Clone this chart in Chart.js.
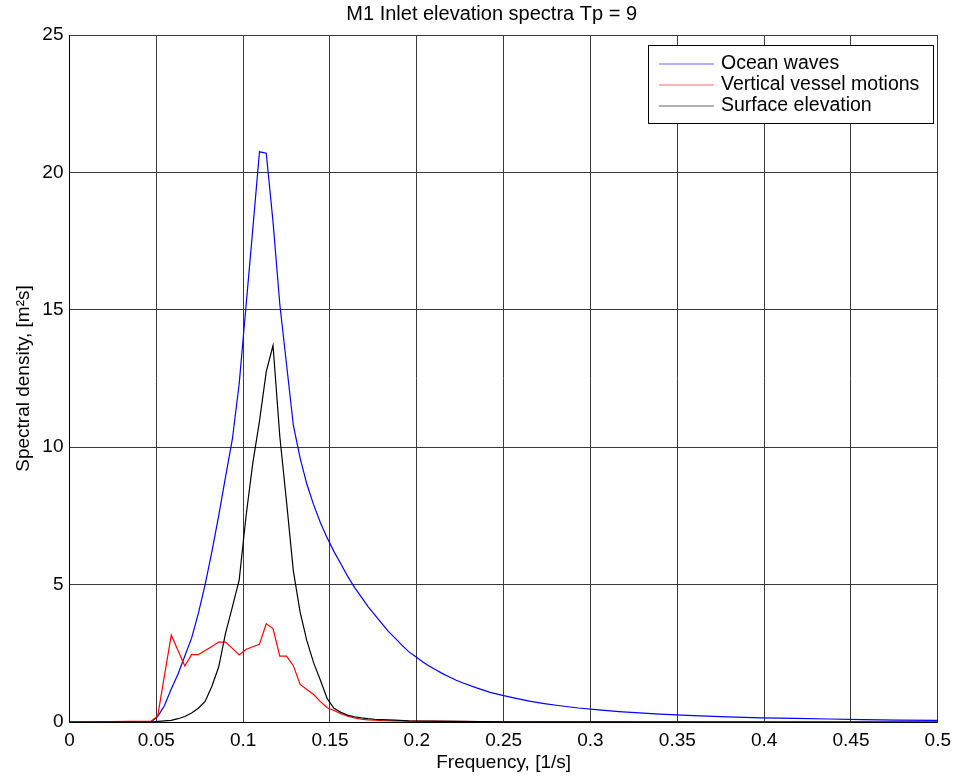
<!DOCTYPE html>
<html>
<head>
<meta charset="utf-8">
<title>M1 Inlet elevation spectra</title>
<script src="https://cdn.jsdelivr.net/npm/chart.js@4.4.1/dist/chart.umd.min.js"></script>
<style>
  body { margin: 0; background: #fff; }
  canvas { display: block; }
</style>
</head>
<body>
<canvas id="grafico" width="958" height="778"></canvas>
<script>
// frecuencias [1/s] y densidad espectral [m^2 s]
const freqOcean = [0, 0.0469, 0.0508, 0.0547, 0.0586, 0.0625, 0.0664, 0.0703, 0.0742, 0.0781,
    0.0820, 0.0859, 0.0898, 0.0938, 0.0977, 0.1016, 0.1055, 0.1094, 0.1133, 0.1172,
    0.1211, 0.1250, 0.1289, 0.1328, 0.1367, 0.1406, 0.1445, 0.1484, 0.1523, 0.1563,
    0.1602, 0.1641, 0.1680, 0.1719, 0.1758, 0.1797, 0.1836, 0.1875, 0.1914, 0.1953,
    0.1992, 0.2031, 0.2070, 0.2109, 0.2148, 0.2188, 0.2227, 0.2266, 0.2344, 0.2422,
    0.2500, 0.2578, 0.2656, 0.2734, 0.2813, 0.2930, 0.3047, 0.3164, 0.3281, 0.3398,
    0.3594, 0.3789, 0.3984, 0.4180, 0.4375, 0.4570, 0.4766, 0.5];
const oceanWaves = [0, 0.0, 0.2, 0.6, 1.2, 1.75, 2.4, 3.05, 3.95, 5.0,
    6.2, 7.5, 8.9, 10.3, 12.3, 15.1, 17.9, 20.75, 20.7, 18.2,
    15.2, 13.0, 10.8, 9.6, 8.65, 7.9, 7.25, 6.7, 6.2, 5.75,
    5.3, 4.9, 4.55, 4.2, 3.9, 3.6, 3.3, 3.05, 2.8, 2.56,
    2.38, 2.2, 2.04, 1.9, 1.76, 1.64, 1.52, 1.42, 1.24, 1.08,
    0.96, 0.85, 0.75, 0.67, 0.6, 0.51, 0.44, 0.38, 0.33, 0.29,
    0.23, 0.19, 0.15, 0.13, 0.11, 0.09, 0.07, 0.06];

const freqVessel = [0, 0.0469, 0.0508, 0.0547, 0.0586, 0.0625, 0.0664, 0.0703, 0.0742, 0.0781,
    0.0820, 0.0859, 0.0898, 0.0938, 0.0977, 0.1016, 0.1055, 0.1094, 0.1133, 0.1172,
    0.1211, 0.1250, 0.1289, 0.1328, 0.1367, 0.1406, 0.1445, 0.1484, 0.1523, 0.1563,
    0.1602, 0.1641, 0.1680, 0.1719, 0.1758, 0.1797, 0.1875, 0.1953, 0.2227, 0.2500, 0.5];
const vesselMotions = [0, 0.03, 0.22, 1.7, 3.16, 2.6, 2.04, 2.45, 2.45, 2.6,
    2.75, 2.91, 2.91, 2.68, 2.44, 2.64, 2.74, 2.83, 3.58, 3.40,
    2.40, 2.40, 2.05, 1.37, 1.18, 1.0, 0.74, 0.52, 0.42, 0.3,
    0.21, 0.15, 0.1, 0.08, 0.07, 0.05, 0.04, 0.03, 0.02, 0.01, 0];

const freqSurface = [0, 0.0469, 0.0508, 0.0547, 0.0586, 0.0625, 0.0664, 0.0703, 0.0742, 0.0781,
    0.0820, 0.0859, 0.0898, 0.0938, 0.0977, 0.1016, 0.1055, 0.1094, 0.1133, 0.1172,
    0.1211, 0.1250, 0.1289, 0.1328, 0.1367, 0.1406, 0.1445, 0.1484, 0.1523, 0.1563,
    0.1602, 0.1641, 0.1680, 0.1719, 0.1758, 0.1797, 0.1875, 0.1953, 0.2227, 0.2500, 0.5];
const surfaceElevation = [0, 0.0, 0.02, 0.04, 0.06, 0.12, 0.2, 0.33, 0.5, 0.75,
    1.3, 2.0, 3.22, 4.19, 5.16, 7.46, 9.4, 10.95, 12.75, 13.7,
    10.4, 8.0, 5.5, 4.0, 2.95, 2.15, 1.52, 0.85, 0.5, 0.35,
    0.25, 0.19, 0.15, 0.12, 0.1, 0.09, 0.07, 0.04, 0.02, 0.01, 0];

const etiquetas = ['Ocean waves', 'Vertical vessel motions', 'Surface elevation'];
const colores = ['#0000ff', '#ff0000', '#000000'];
const titulo = 'M1 Inlet elevation spectra Tp = 9';

const fuente = 'Liberation Sans, Arial, Helvetica, sans-serif';
Chart.defaults.font.family = fuente;
Chart.defaults.font.size = 19;
Chart.defaults.color = '#000';

function puntos(xs, ys) {
    return xs.map((x, i) => ({ x: x, y: ys[i] }));
}

// titulo centrado sobre el area de datos (como en matlab)
const tituloArriba = {
    id: 'tituloArriba',
    afterDraw(chart) {
        const ctx = chart.ctx;
        const area = chart.chartArea;
        ctx.save();
        ctx.font = '20px ' + fuente;
        ctx.fillStyle = '#000';
        ctx.textAlign = 'center';
        ctx.textBaseline = 'middle';
        ctx.fillText(titulo, (area.left + area.right) / 2 - 12, 14);
        ctx.restore();
    }
};

// leyenda dibujada a mano dentro del area del grafico, con caja
const leyendaCaja = {
    id: 'leyendaCaja',
    afterDatasetsDraw(chart) {
        const ctx = chart.ctx;
        const area = chart.chartArea;
        const x0 = Math.round(area.right - 290), y0 = Math.round(area.top + 10), w = 285, h = 78;
        ctx.save();
        ctx.fillStyle = '#fff';
        ctx.fillRect(x0, y0, w, h);
        ctx.strokeStyle = '#000';
        ctx.lineWidth = 1;
        ctx.strokeRect(x0 + 0.5, y0 + 0.5, w, h);
        ctx.font = '19.5px ' + fuente;
        ctx.textBaseline = 'middle';
        ctx.fillStyle = '#000';
        chart.data.datasets.forEach((ds, i) => {
            const y = y0 + 19 + i * 21;
            ctx.strokeStyle = colores[i];
            ctx.globalAlpha = 0.6;
            ctx.lineWidth = 1.2;
            ctx.beginPath();
            ctx.moveTo(x0 + 11, y);
            ctx.lineTo(x0 + 66, y);
            ctx.stroke();
            ctx.globalAlpha = 1;
            ctx.fillText(ds.label, x0 + 73, y - 0.5);
        });
        ctx.restore();
    }
};

const datasets = [
    { label: etiquetas[0], data: puntos(freqOcean, oceanWaves), borderColor: colores[0], order: 3 },
    { label: etiquetas[1], data: puntos(freqVessel, vesselMotions), borderColor: colores[1], order: 2 },
    { label: etiquetas[2], data: puntos(freqSurface, surfaceElevation), borderColor: colores[2], order: 1 }
].map(ds => Object.assign(ds, { borderWidth: 1.2, pointRadius: 0, fill: false, tension: 0 }));

new Chart(document.getElementById('grafico').getContext('2d'), {
    type: 'line',
    data: { datasets: datasets },
    options: {
        responsive: false,
        animation: false,
        layout: { padding: { left: 0, right: 19, top: 35, bottom: 0 } },
        plugins: {
            legend: { display: false },
            tooltip: { enabled: false },
            title: { display: false }
        },
        scales: {
            x: {
                type: 'linear',
                min: 0,
                max: 0.5,
                afterFit: s => { s.height = 56; },
                ticks: {
                    stepSize: 0.05,
                    padding: 7,
                    maxRotation: 0,
                    callback: v => String(Number(v.toFixed(2)))
                },
                grid: { color: '#3a3a3a', lineWidth: 1, drawTicks: false },
                border: { color: '#000', width: 1 },
                title: { display: true, text: 'Frequency, [1/s]', padding: { top: 0, bottom: 4 } }
            },
            y: {
                min: 0,
                max: 25,
                afterFit: s => { s.width = 69.5; },
                ticks: { stepSize: 5, padding: 6 },
                grid: { color: '#3a3a3a', lineWidth: 1, drawTicks: false },
                border: { color: '#000', width: 1 },
                title: { display: true, text: 'Spectral density, [m²s]', padding: { top: 12, bottom: 0 } }
            }
        }
    },
    plugins: [tituloArriba, leyendaCaja]
});
</script>
</body>
</html>
